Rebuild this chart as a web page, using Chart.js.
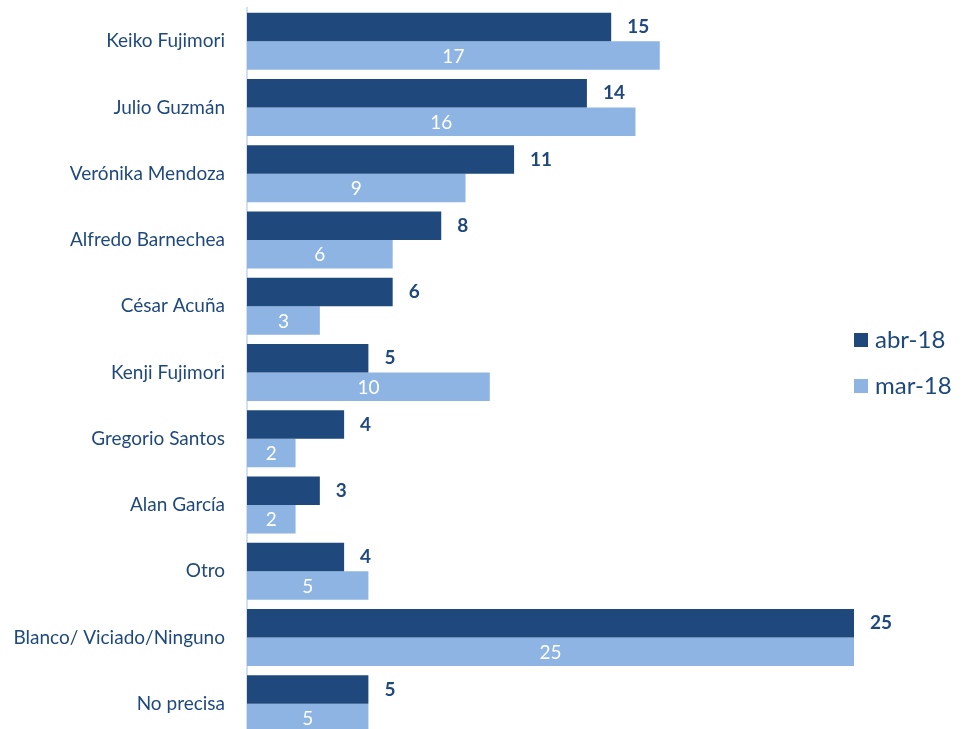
<!DOCTYPE html>
<html>
<head>
<meta charset="utf-8">
<script src="https://cdn.jsdelivr.net/npm/chart.js@4"></script>
<style>
  html, body { margin: 0; padding: 0; background: #fff; overflow: hidden; }
  #wrap { width: 967px; height: 740px; position: relative; }
</style>
</head>
<body>
<div id="wrap"><canvas id="encuestaChart"></canvas></div>
<script>
const categories = ['Keiko Fujimori', 'Julio Guzmán', 'Verónika Mendoza', 'Alfredo Barnechea', 'César Acuña',
    'Kenji Fujimori', 'Gregorio Santos', 'Alan García', 'Otro', 'Blanco/ Viciado/Ninguno', 'No precisa'];
const abr18 = [15, 14, 11, 8, 6, 5, 4, 3, 4, 25, 5];
const mar18 = [17, 16, 9, 6, 3, 10, 2, 2, 5, 25, 5];
const seriesNames = ['abr-18', 'mar-18'];

const darkBlue = '#1F497D';
const lightBlue = '#8DB4E2';
const fontFamily = 'Lato, "Open Sans", sans-serif';

// etiquetas de valor: oscuras afuera, claras dentro de la barra
const valueLabels = {
    id: 'valueLabels',
    afterDatasetsDraw(chart) {
        const ctx = chart.ctx;
        ctx.save();
        ctx.textBaseline = 'middle';
        chart.data.datasets.forEach(function(ds, i) {
            const meta = chart.getDatasetMeta(i);
            meta.data.forEach(function(bar, j) {
                const v = ds.data[j];
                if (i === 0) {
                    ctx.font = 'bold 19px ' + fontFamily;
                    ctx.fillStyle = darkBlue;
                    ctx.textAlign = 'left';
                    ctx.fillText(v, bar.x + 16, bar.y);
                } else {
                    ctx.font = '19px ' + fontFamily;
                    ctx.fillStyle = '#ffffff';
                    ctx.textAlign = 'center';
                    ctx.fillText(v, (bar.x + bar.base) / 2, bar.y + 1);
                }
            });
        });
        ctx.restore();
    }
};

// leyenda a la derecha
const sideLegend = {
    id: 'sideLegend',
    afterDraw(chart) {
        const ctx = chart.ctx;
        const x = chart.chartArea.right;
        const rows = [340, 386];
        ctx.save();
        ctx.font = '24px ' + fontFamily;
        ctx.textBaseline = 'middle';
        ctx.textAlign = 'left';
        chart.data.datasets.forEach(function(ds, i) {
            ctx.fillStyle = ds.backgroundColor;
            ctx.fillRect(x, rows[i] - 7, 14, 14);
            ctx.fillStyle = darkBlue;
            ctx.fillText(ds.label, x + 21, rows[i]);
        });
        ctx.restore();
    }
};

new Chart(document.getElementById('encuestaChart'), {
    type: 'bar',
    data: {
        labels: categories,
        datasets: [
            { label: seriesNames[0], data: abr18, backgroundColor: darkBlue },
            { label: seriesNames[1], data: mar18, backgroundColor: lightBlue }
        ]
    },
    options: {
        indexAxis: 'y',
        responsive: true,
        maintainAspectRatio: false,
        animation: false,
        layout: { padding: { top: 8, bottom: 3, left: 0, right: 113 } },
        datasets: { bar: { categoryPercentage: 0.86, barPercentage: 1.0 } },
        plugins: {
            legend: { display: false },
            tooltip: { enabled: false }
        },
        scales: {
            x: { display: false, min: 0, max: 25 },
            y: {
                grid: { display: false, drawTicks: false },
                border: { display: true, color: '#D3E0F2', width: 2 },
                ticks: {
                    padding: 22,
                    color: darkBlue,
                    font: { family: fontFamily, size: 19 }
                },
                afterFit: function(scale) {
                    scale.width = 247;
                    scale.paddingTop = 0;
                    scale.paddingBottom = 0;
                }
            }
        }
    },
    plugins: [valueLabels, sideLegend]
});
</script>
</body>
</html>
